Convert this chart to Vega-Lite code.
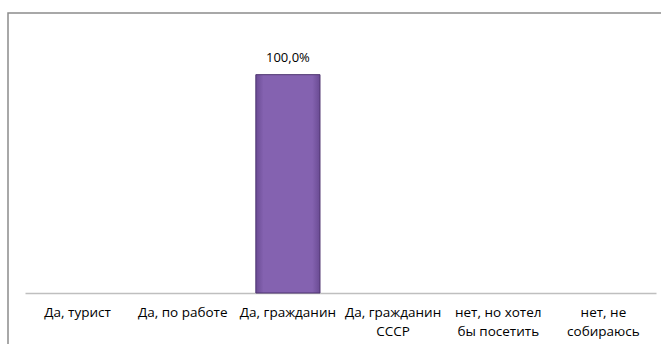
{
  "$schema": "https://vega.github.io/schema/vega-lite/v6.json",
  "width": 655,
  "height": 333,
  "autosize": {"type": "none"},
  "padding": {"left": 8, "top": 13, "right": 0, "bottom": 0},
  "background": "#ffffff",
  "config": {
    "view": {"stroke": "#8c8c8c", "strokeWidth": 1.5},
    "locale": {"number": {"decimal": ",", "thousands": " ", "grouping": [3], "currency": ["", " ₽"]}}
  },
  "data": {
    "values": [
      {"category": "Да, турист", "value": null},
      {"category": "Да, по работе", "value": null},
      {"category": "Да, гражданин", "value": 1.0},
      {"category": "Да, гражданин СССР", "value": null},
      {"category": "нет, но хотел бы посетить", "value": null},
      {"category": "нет, не собираюсь", "value": null}
    ]
  },
  "encoding": {
    "x": {
      "field": "category",
      "type": "nominal",
      "sort": null,
      "scale": {
        "type": "band",
        "domain": ["Да, турист", "Да, по работе", "Да, гражданин", "Да, гражданин СССР", "нет, но хотел бы посетить", "нет, не собираюсь"],
        "range": [17, 648],
        "paddingInner": 0.39,
        "paddingOuter": 0.195
      },
      "axis": {
        "title": null,
        "orient": "bottom",
        "offset": -53,
        "domainColor": "#bfbfbf",
        "domainWidth": 1.5,
        "ticks": false,
        "labelAngle": 0,
        "labelPadding": 12,
        "labelFont": "Open Sans",
        "labelFontSize": 13.5,
        "labelColor": "#000000",
        "labelLimit": 0,
        "labelLineHeight": 19,
        "labelExpr": "datum.value == 'Да, гражданин СССР' ? ['Да, гражданин', 'СССР'] : datum.value == 'нет, но хотел бы посетить' ? ['нет, но хотел', 'бы посетить'] : datum.value == 'нет, не собираюсь' ? ['нет, не', 'собираюсь'] : datum.value"
      }
    },
    "y": {
      "field": "value",
      "type": "quantitative",
      "scale": {"domain": [0, 1.2], "range": [280, 18], "nice": false},
      "axis": null
    }
  },
  "layer": [
    {
      "mark": {
        "type": "bar",
        "fill": {
          "gradient": "linear",
          "x1": 0, "y1": 0, "x2": 1, "y2": 0,
          "stops": [
            {"offset": 0, "color": "#6a4b93"},
            {"offset": 0.12, "color": "#8462b0"},
            {"offset": 0.88, "color": "#8462b0"},
            {"offset": 1, "color": "#6a4b93"}
          ]
        },
        "stroke": "#4e3470",
        "strokeWidth": 1
      }
    },
    {
      "mark": {"type": "text", "baseline": "bottom", "dy": -10, "font": "Open Sans", "fontSize": 13, "color": "#000000"},
      "encoding": {
        "text": {"field": "value", "type": "quantitative", "format": ".1%"}
      }
    }
  ]
}
